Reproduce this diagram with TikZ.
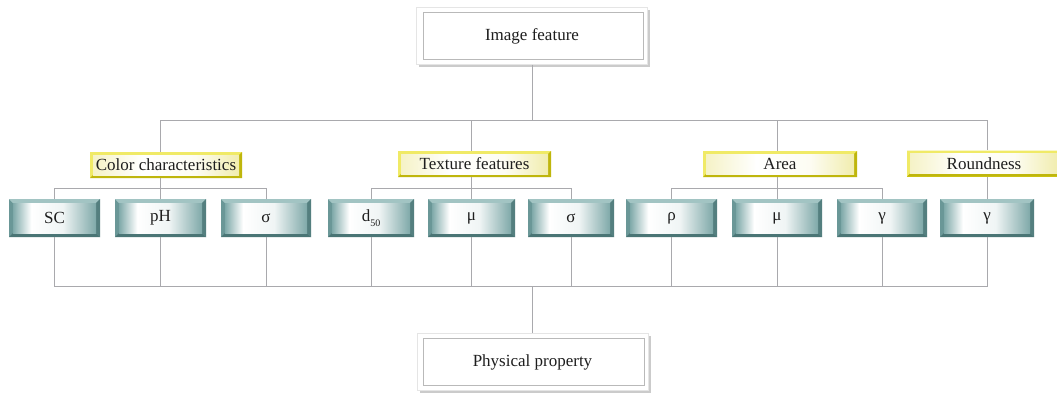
\documentclass[tikz,border=0pt]{standalone}
\usepackage{fontspec}
\setmainfont{Liberation Serif}
\usetikzlibrary{shadows}

\definecolor{wirec}{HTML}{A9A9AD}
\definecolor{inkc}{HTML}{1E1E1E}
\definecolor{tealD}{HTML}{4A7575}
\definecolor{tealM}{HTML}{6A9797}
\definecolor{tealL}{HTML}{A2C4C3}
\definecolor{tealF}{HTML}{7FA9A9}
\definecolor{yelB}{HTML}{DFD71C}
\definecolor{yelD}{HTML}{BFB60C}
\definecolor{yelL}{HTML}{F0EA66}
\definecolor{yelF}{HTML}{F1EDAE}

% face gradients of the bevelled boxes
\pgfdeclarehorizontalshading{tealface}{100bp}{color(0bp)=(tealF); color(25bp)=(tealF); color(36bp)=(white); color(55bp)=(white!88!tealF); color(75bp)=(tealF); color(100bp)=(tealF)}
\pgfdeclarehorizontalshading{yelface}{100bp}{color(0bp)=(yelF); color(25bp)=(yelF!70!white); color(42bp)=(white); color(60bp)=(white!85!yelF); color(75bp)=(yelF); color(100bp)=(yelF)}

\tikzset{
  wire/.style={draw=wirec, line width=0.8pt},
  txt/.style={text=inkc, font=\fontsize{17}{20}\selectfont},
  % white box with a drop shadow and an inner frame
  plainbox/.style={txt, fill=white, draw=gray!20, line width=0.4pt,
    minimum width=231, minimum height=57, inner sep=0pt,
    drop shadow={shadow xshift=2.5pt, shadow yshift=-2.5pt, opacity=0.5, fill=gray!80},
    path picture={
      \draw[gray!55, line width=0.7pt]
        ([xshift=6.5pt,yshift=-5pt]path picture bounding box.north west) rectangle
        ([xshift=-4pt,yshift=5.5pt]path picture bounding box.south east);
    }},
  % yellow bevelled label
  yelbox/.style={txt, fill=yelB, minimum height=26, inner sep=0pt,
    path picture={
      \fill[yelL] (path picture bounding box.south west) -- (path picture bounding box.north west)
        -- (path picture bounding box.north east) -- ([xshift=-3pt,yshift=-3pt]path picture bounding box.north east)
        -- ([xshift=3pt,yshift=-3pt]path picture bounding box.north west) -- ([xshift=3pt,yshift=3pt]path picture bounding box.south west) -- cycle;
      \fill[yelD] (path picture bounding box.south west) -- (path picture bounding box.south east)
        -- (path picture bounding box.north east) -- ([xshift=-3pt,yshift=-3pt]path picture bounding box.north east)
        -- ([xshift=-3pt,yshift=3pt]path picture bounding box.south east) -- ([xshift=3pt,yshift=3pt]path picture bounding box.south west) -- cycle;
      \shade[shading=yelface]
        ([xshift=3pt,yshift=3pt]path picture bounding box.south west) rectangle
        ([xshift=-3pt,yshift=-3pt]path picture bounding box.north east);
    }},
  % teal bevelled value box
  tealbox/.style={txt, fill=tealM, minimum height=38, inner sep=0pt,
    path picture={
      \fill[tealL] (path picture bounding box.north west) -- (path picture bounding box.north east)
        -- ([xshift=-4pt,yshift=-4pt]path picture bounding box.north east)
        -- ([xshift=4pt,yshift=-4pt]path picture bounding box.north west) -- cycle;
      \fill[tealD] (path picture bounding box.south west) -- (path picture bounding box.south east)
        -- ([xshift=-4pt,yshift=4pt]path picture bounding box.south east)
        -- ([xshift=4pt,yshift=4pt]path picture bounding box.south west) -- cycle;
      \fill[tealD!70!tealM] (path picture bounding box.north east) -- (path picture bounding box.south east)
        -- ([xshift=-4pt,yshift=4pt]path picture bounding box.south east)
        -- ([xshift=-4pt,yshift=-4pt]path picture bounding box.north east) -- cycle;
      \shade[shading=tealface]
        ([xshift=4pt,yshift=4pt]path picture bounding box.south west) rectangle
        ([xshift=-4pt,yshift=-4pt]path picture bounding box.north east);
    }},
}

\begin{document}
\begin{tikzpicture}[x=1pt,y=-1pt]
\clip (0,0) rectangle (1057,394);
\fill[white] (0,0) rectangle (1057,394);

% top and bottom boxes
\node[plainbox] (feat) at (532,36) {Image feature};
\node[plainbox] (phys) at (532.5,362) {Physical property};

% feature groups
\node[yelbox, minimum width=152] (col)  at (166,165)   {Color characteristics};
\node[yelbox, minimum width=153] (tex)  at (474.5,164) {Texture features};
\node[yelbox, minimum width=154] (area) at (780,164)   {Area};
\node[yelbox, minimum width=154] (rnd)  at (984,163.5) {Roundness};

% measured quantities
\node[tealbox, minimum width=91] (sc)  at (54.5,218)  {SC};
\node[tealbox, minimum width=91] (ph)  at (160.5,218) {pH};
\node[tealbox, minimum width=90] (sg1) at (266,218)   {σ};
\node[tealbox, minimum width=86] (d50) at (371,218)   {d\raisebox{-5pt}{\fontsize{10}{10}\selectfont 50}};
\node[tealbox, minimum width=87] (mu1) at (471.5,218) {μ};
\node[tealbox, minimum width=86] (sg2) at (571,218)   {σ};
\node[tealbox, minimum width=91] (rho) at (671.5,218) {ρ};
\node[tealbox, minimum width=90] (mu2) at (777,218)   {μ};
\node[tealbox, minimum width=90] (ga1) at (882,218)   {γ};
\node[tealbox, minimum width=94] (ga2) at (987,218)   {γ};

% junction levels
\coordinate (hubT) at (532,120);
\coordinate (grp)  at (0,188);
\coordinate (hubB) at (532.5,286);

% top tree
\draw[wire] (feat.south) -- (hubT);
\draw[wire] (col.north -| ph.north) -- (ph.north |- hubT) -- (ga2.north |- hubT) -- (rnd.north -| ga2.north);
\draw[wire] (tex.north -| mu1.north) -- (mu1.north |- hubT);
\draw[wire] (area.north -| mu2.north) -- (mu2.north |- hubT);

% groups to quantities
\draw[wire] (col.south -| ph.north) -- (ph.north);
\draw[wire] (sc.north) -- (sc.north |- grp) -- (sg1.north |- grp) -- (sg1.north);
\draw[wire] (tex.south -| mu1.north) -- (mu1.north);
\draw[wire] (d50.north) -- (d50.north |- grp) -- (sg2.north |- grp) -- (sg2.north);
\draw[wire] (area.south -| mu2.north) -- (mu2.north);
\draw[wire] (rho.north) -- (rho.north |- grp) -- (ga1.north |- grp) -- (ga1.north);
\draw[wire] (rnd.south -| ga2.north) -- (ga2.north);

% bottom tree
\draw[wire] (sc.south) -- (sc.south |- hubB) -- (ga2.south |- hubB) -- (ga2.south);
\foreach \n in {ph,sg1,d50,mu1,sg2,rho,mu2,ga1}
  \draw[wire] (\n.south) -- (\n.south |- hubB);
\draw[wire] (hubB) -- (phys.north);
\end{tikzpicture}
\end{document}
